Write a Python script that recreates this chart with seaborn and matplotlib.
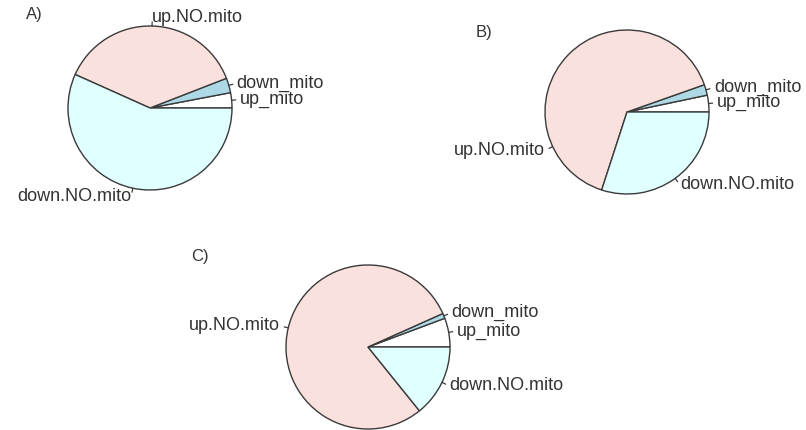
import numpy as np
import matplotlib
matplotlib.use('Agg')
import matplotlib.pyplot as plt
import seaborn as sns

# slice labels, in R pie order (counter-clockwise from 3 o'clock)
labels = ["up_mito", "down_mito", "up.NO.mito", "down.NO.mito"]

# percentages
a_vals = [3.0, 2.9, 37.4, 56.7]
b_vals = [3.3, 2.1, 64.6, 30.0]
c_vals = [5.7, 1.0, 79.1, 14.2]

panel_titles = ["A)", "B)", "C)"]

# R's default pie colours
pie_colors = ["white", "#ADD8E6", "#FBE1DE", "#E0FFFF"]

sns.set_style("white")
plt.rcParams['font.family'] = ['Liberation Sans', 'DejaVu Sans']

W, H = 806, 430
fig = plt.figure(figsize=(W / 100, H / 100), dpi=100)

r_px = 82
box = 200
lim = box / 2 / r_px
line_col = '#3a3a3a'
txt_col = '#333333'


def draw_pie(vals, cx, cy, label_angles=None):
    label_angles = label_angles or {}
    ax = fig.add_axes([(cx - box / 2) / W, (H - cy - box / 2) / H, box / W, box / H])
    wedges, _ = ax.pie(vals, colors=pie_colors, startangle=0, counterclock=True,
                       wedgeprops=dict(edgecolor=line_col, linewidth=1.0))
    for w, lab in zip(wedges, labels):
        # label sits at the slice middle unless it was moved in the original
        mid = np.deg2rad(label_angles.get(lab, (w.theta1 + w.theta2) / 2))
        c, s = np.cos(mid), np.sin(mid)
        ax.plot([c, 1.05 * c], [s, 1.05 * s], color=line_col, lw=0.9, clip_on=False)
        ax.text(1.1 * c, 1.1 * s, lab, ha='left' if c >= 0 else 'right', va='center',
                fontsize=13, color=txt_col, clip_on=False)
    ax.set_xlim(-lim, lim)
    ax.set_ylim(-lim, lim)
    ax.set_aspect('equal')
    ax.axis('off')
    return ax


draw_pie(a_vals, 150, 108)
draw_pie(b_vals, 627, 112, label_angles={"up.NO.mito": 205})
draw_pie(c_vals, 368, 347)

fig.text(26 / W, 1 - 15 / H, panel_titles[0], fontsize=12, color=txt_col, va='center')
fig.text(476 / W, 1 - 33 / H, panel_titles[1], fontsize=12, color=txt_col, va='center')
fig.text(191 / W, 1 - 257 / H, panel_titles[2], fontsize=12, color=txt_col, va='center')

fig.savefig('out.png', dpi=100, facecolor='white')
